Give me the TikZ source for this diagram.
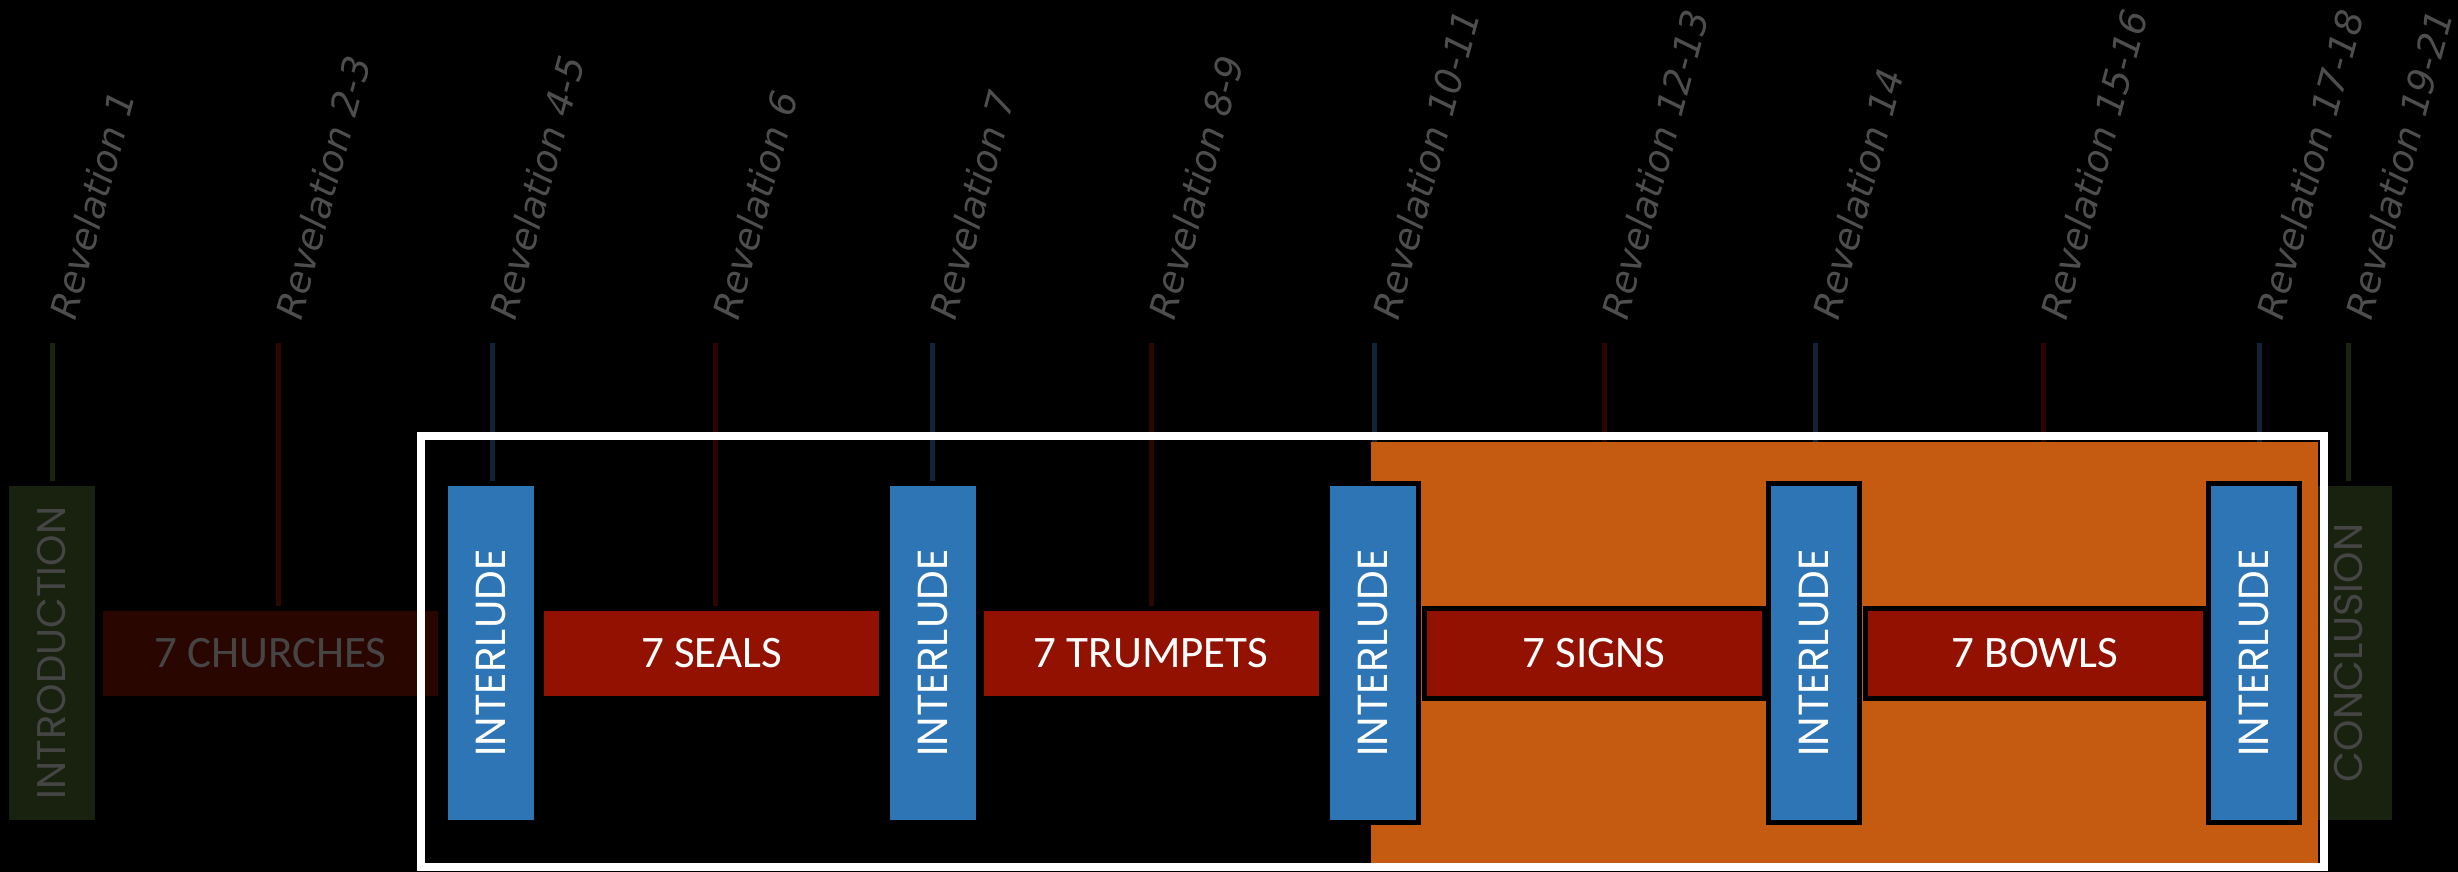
\documentclass[tikz,border=0pt]{standalone}
\usepackage{fontspec}
\newfontfamily\calib{Carlito}
\newfontfamily\geo{Poppins}
\newfontfamily\dvs{DejaVu Sans}
\definecolor{introgreen}{HTML}{19220F}
\definecolor{dimred}{HTML}{2A0600}
\definecolor{blueI}{HTML}{2E75B6}
\definecolor{redB}{HTML}{931100}
\definecolor{orangeC}{HTML}{C55A11}
\definecolor{dimgrey}{HTML}{454545}
\definecolor{revgrey}{HTML}{4E4E4E}
\definecolor{tblue}{HTML}{0F2438}
\definecolor{tred}{HTML}{2C0600}
\definecolor{tgreen}{HTML}{1A2510}
\begin{document}
\begin{tikzpicture}[x=0.5pt,y=-0.5pt,
  vbox/.style={rotate=90, minimum width=167pt, minimum height=43pt, inner sep=0pt,
    font=\geo\fontsize{20pt}{24pt}\selectfont},
  hbox/.style={minimum width=167.5pt, minimum height=42.5pt, inner sep=0pt,
    font=\calib\fontsize{22.5pt}{26pt}\selectfont},
  interlude/.style={vbox, fill=blueI, text=white, font=\geo\fontsize{21pt}{24pt}\selectfont},
  sevens/.style={hbox, fill=redB, text=white},
  edged/.style={preaction={draw=black, line width=5pt}},
  tick/.style={line width=2.5pt, shorten >=2.5pt},
  rev/.style={rotate=75, anchor=base west, inner sep=0pt, text=revgrey,
    font=\dvs\itshape\fontsize{18.6pt}{20pt}\selectfont}]
\fill[black] (0,0) rectangle (2458,872);
\useasboundingbox (0,0) rectangle (2458,872);

% tick start points
\coordinate (t1) at (52,343);
\coordinate (t2) at (278,343);
\coordinate (t3) at (492,343);
\coordinate (t4) at (715,343);
\coordinate (t5) at (932,343);
\coordinate (t6) at (1151,343);
\coordinate (t7) at (1374,343);
\coordinate (t8) at (1604,343);
\coordinate (t9) at (1815,343);
\coordinate (t10) at (2043,343);
\coordinate (t11) at (2259,343);
\coordinate (t12) at (2348,343);

% labels
\node[rev] (l1) at (75,322) {Revelation 1};
\node[rev] (l2) at (301,322) {Revelation 2-3};
\node[rev] (l3) at (515,322) {Revelation 4-5};
\node[rev] (l4) at (738,322) {Revelation 6};
\node[rev] (l5) at (955,322) {Revelation 7};
\node[rev] (l6) at (1174,322) {Revelation 8-9};
\node[rev] (l7) at (1398,322) {Revelation 10-11};
\node[rev] (l8) at (1627,322) {Revelation 12-13};
\node[rev] (l9) at (1838,322) {Revelation 14};
\node[rev] (l10) at (2066,322) {Revelation 15-16};
\node[rev] (l11) at (2282,322) {Revelation 17-18};
\node[rev] (l12) at (2371,322) {Revelation 19-21};

% outer boxes (behind the frame)
\node[vbox, fill=introgreen, text=dimgrey] (intro) at (51.5,653) {INTRODUCTION};
\node[hbox, fill=dimred, text=dimgrey] (churches) at (270.5,653.5) {7 CHURCHES};
\node[vbox, fill=introgreen, text=dimgrey] (concl) at (2348.5,653) {CONCLUSION};

% coordinates of box tops for ticks
\coordinate (int1top) at (491,486);
\coordinate (int2top) at (932.5,486);
\coordinate (int3top) at (1373,486);
\coordinate (int4top) at (1813.5,486);
\coordinate (int5top) at (2254,486);
\coordinate (sealtop) at (711.5,611);
\coordinate (trumptop) at (1151,611);
\coordinate (signtop) at (1594,611);
\coordinate (bowltop) at (2035,611);

% ticks
\draw[tick, tgreen] (t1) -- (t1 |- intro.east);
\draw[tick, tred] (t2) -- (t2 |- churches.north);
\draw[tick, tblue] (t3) -- (t3 |- int1top);
\draw[tick, tred] (t4) -- (t4 |- sealtop);
\draw[tick, tblue] (t5) -- (t5 |- int2top);
\draw[tick, tred] (t6) -- (t6 |- trumptop);
\draw[tick, tblue] (t7) -- (t7 |- int3top);
\draw[tick, tred] (t8) -- (t8 |- signtop);
\draw[tick, tblue] (t9) -- (t9 |- int4top);
\draw[tick, tred] (t10) -- (t10 |- bowltop);
\draw[tick, tblue] (t11) -- (t11 |- int5top);
\draw[tick, tgreen] (t12) -- (t12 |- concl.east);

% orange region and white frame
\fill[orangeC] (1371,442) rectangle (2318,863);
\draw[white, line width=4pt] (421,436) rectangle (2324,867);

% inner boxes
\node[interlude] (int1) at (491,653) {INTERLUDE};
\node[sevens] (seals) at (711.5,653.5) {7 SEALS};
\node[interlude] (int2) at (932.5,653) {INTERLUDE};
\node[sevens] (trumpets) at (1151,653.5) {7 TRUMPETS};
\node[interlude, edged] (int3) at (1373,653) {INTERLUDE};
\node[sevens, edged] (signs) at (1594,653.5) {7 SIGNS};
\node[interlude, edged] (int4) at (1813.5,653) {INTERLUDE};
\node[sevens, edged] (bowls) at (2035,653.5) {7 BOWLS};
\node[interlude, edged] (int5) at (2254,653) {INTERLUDE};
\end{tikzpicture}
\end{document}
